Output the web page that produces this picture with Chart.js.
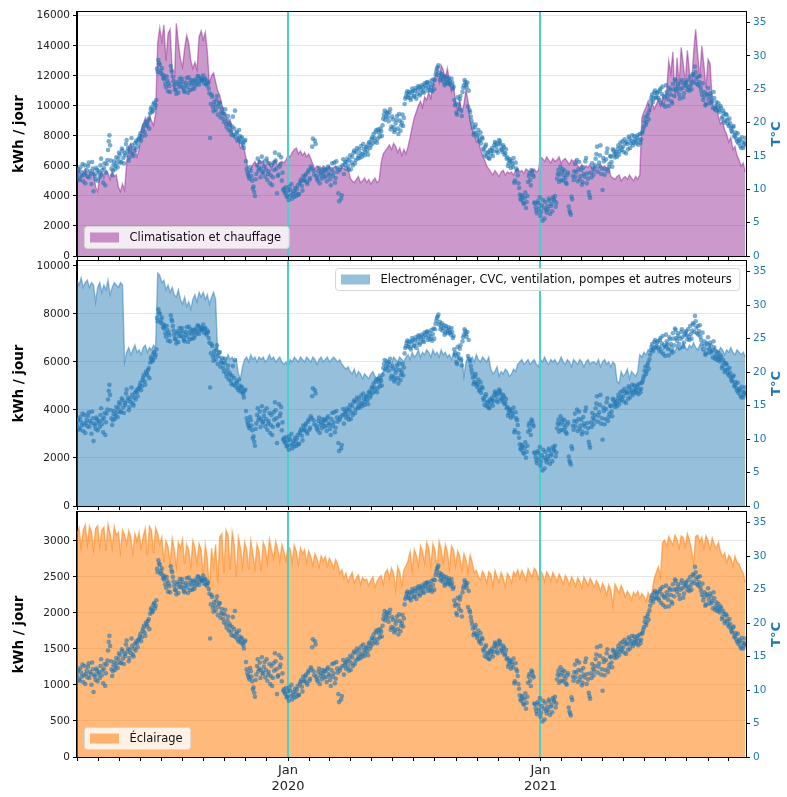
<!DOCTYPE html>
<html><head><meta charset="utf-8">
<script src="https://cdn.jsdelivr.net/npm/chart.js@4.4.1/dist/chart.umd.min.js"></script>
<style>
html,body{margin:0;padding:0;background:#fff;}
#wrap{position:relative;width:787px;height:797px;}
#wrap canvas{position:absolute;left:0;top:0;}
</style></head><body>
<div id="wrap">
<canvas id="c1" width="787" height="797"></canvas>
<canvas id="c2" width="787" height="797"></canvas>
<canvas id="c3" width="787" height="797"></canvas>
</div>
<script>
// ---------------- DATA ----------------
const startDate = '2019-03-01';
const endDate = '2021-10-26';
const energyStepDays = 3;    // one energy reading every 3 days

// Daily mean outdoor temperature (°C), even days (0, 2, 4, ...)
const tempEvenDaysC = [
12.1,13.0,11.4,12.6,13.8,12.2,10.9,12.9,13.5,11.8,12.4,14.1,9.7,12.0,13.2,
11.3,12.7,13.6,12.2,11.0,13.9,12.5,14.4,17.2,16.6,13.1,12.8,14.2,13.5,14.0,
14.6,15.2,14.1,15.8,13.9,15.1,17.4,16.2,14.8,15.5,16.6,15.0,16.9,17.3,16.4,
17.6,18.4,17.9,19.2,18.6,20.1,19.5,20.6,21.4,22.3,21.8,23.0,22.6,28.1,29.4,
28.7,27.8,27.2,26.5,25.8,26.9,24.7,25.5,28.5,27.6,26.2,25.0,24.3,26.1,25.4,
25.9,26.6,25.2,24.6,26.0,25.3,26.8,24.9,25.7,26.3,25.1,26.5,25.8,26.9,26.2,
26.7,26.4,25.9,26.6,25.6,26.0,24.4,22.8,23.9,21.7,22.6,23.4,21.2,22.9,20.8,
22.1,20.6,21.3,19.8,20.4,18.9,19.6,18.2,20.9,19.1,17.9,18.6,17.3,18.0,17.6,
17.0,16.2,17.4,13.1,12.2,11.6,12.8,11.3,10.4,9.0,12.3,14.6,13.2,11.8,14.9,
12.6,14.2,13.0,11.4,12.7,10.9,13.6,11.8,12.9,14.3,9.4,12.2,13.4,14.8,12.5,
10.1,9.4,8.9,9.8,10.4,9.1,8.6,9.7,10.2,9.0,10.6,9.3,11.2,10.5,12.0,
11.4,12.3,10.8,12.9,11.7,13.1,17.6,12.2,16.8,11.6,12.7,10.9,12.5,13.0,11.9,
12.8,11.2,13.4,12.1,10.6,13.9,12.5,11.0,14.2,12.6,8.2,13.3,9.1,14.5,13.7,
13.2,14.6,12.9,15.1,14.0,13.6,15.8,14.4,16.2,15.0,14.7,16.5,15.3,16.0,15.6,
16.4,15.2,17.1,16.6,17.8,18.3,17.2,18.9,17.6,18.5,19.1,18.0,20.6,21.8,20.9,
21.4,20.2,22.0,19.4,20.5,18.6,19.9,21.0,18.3,20.3,19.6,21.2,20.7,23.6,24.4,
23.8,24.6,23.4,25.1,24.0,24.8,23.6,24.9,25.3,24.4,25.6,24.7,25.9,25.2,26.1,
25.4,24.9,26.3,25.7,25.0,27.2,28.1,28.6,27.5,26.8,26.2,27.0,25.9,26.5,25.8,
26.3,25.6,26.0,25.4,22.6,21.5,23.8,22.1,24.0,21.0,25.2,26.4,25.7,26.0,24.8,
21.6,20.3,19.2,18.5,19.7,17.8,18.9,17.4,16.9,17.6,15.8,16.4,14.9,15.6,14.6,
15.3,16.2,15.7,17.1,16.4,15.5,17.4,16.8,15.9,16.6,15.2,16.0,14.8,13.9,14.5,
14.2,13.4,11.0,14.0,12.8,10.9,9.2,8.4,8.9,7.8,9.5,8.1,11.1,12.4,10.6,
12.7,11.9,7.9,6.8,8.2,7.1,6.0,7.6,8.4,5.6,6.9,7.5,8.6,6.3,7.8,
8.8,8.3,7.4,11.6,12.9,12.2,11.4,13.0,12.1,11.7,10.8,12.5,6.8,6.2,8.5,
11.4,13.8,12.6,11.2,14.1,12.0,10.7,13.3,11.9,14.7,12.4,9.6,8.7,11.8,13.2,
12.9,14.6,16.4,13.5,15.1,12.3,9.9,14.2,13.0,15.5,12.7,13.8,14.9,13.4,15.8,
14.8,15.6,16.1,15.2,17.0,15.9,16.4,17.5,15.4,16.8,17.9,16.2,17.3,16.6,18.0,
17.2,17.8,16.7,18.3,17.5,18.6,19.4,20.8,20.1,21.4,21.9,23.3,24.2,23.6,24.8,
23.9,24.6,23.4,25.1,24.3,22.7,23.8,25.6,24.1,22.5,24.9,23.2,25.8,24.0,26.3,
24.7,25.4,23.6,26.0,25.2,24.4,25.9,25.5,26.4,24.8,25.7,26.2,27.1,28.4,26.6,
26.9,26.1,25.3,24.2,23.4,24.6,22.8,24.1,23.5,24.4,23.0,22.2,23.7,22.5,21.8,
22.9,21.6,22.2,20.9,21.4,20.3,21.1,19.8,20.6,19.2,18.6,19.5,18.1,17.6,18.4,
17.3,16.5,17.8,16.2,17.0,16.8
];
// Daily mean outdoor temperature (°C), odd days (1, 3, 5, ...)
const tempOddDaysC = [
12.8,11.6,13.3,12.0,11.2,13.6,12.4,11.9,14.0,12.7,10.8,13.1,12.3,11.5,12.9,
12.4,11.8,14.6,12.9,13.2,10.6,13.8,15.9,18.1,14.3,12.1,13.7,13.0,14.8,13.3,
15.5,14.0,16.1,14.7,15.4,16.8,15.7,14.3,16.0,17.7,15.3,16.2,15.9,17.0,17.5,
18.0,17.3,18.8,19.6,18.1,19.8,20.3,19.1,22.0,21.6,22.8,22.2,23.4,27.6,28.9,
27.4,28.2,26.7,27.0,25.3,26.3,25.9,24.6,27.9,26.9,25.6,24.9,25.8,24.5,26.6,
25.4,26.1,24.8,25.6,26.7,24.5,25.9,26.4,25.0,26.0,25.5,26.2,27.0,25.7,26.5,
26.3,27.1,26.5,25.8,26.2,25.1,17.7,24.2,22.3,23.1,21.9,24.0,22.4,23.0,21.5,
21.4,20.1,22.0,19.3,21.0,19.9,18.7,19.4,18.1,21.8,18.4,17.6,18.9,17.1,17.8,
16.7,17.2,14.2,12.6,11.9,13.3,12.0,10.1,9.6,11.5,13.6,12.8,14.1,13.0,12.4,
13.5,11.9,14.6,12.3,13.9,12.1,10.6,14.0,15.5,13.1,12.0,15.2,13.8,11.3,9.9,
9.6,10.3,9.0,8.4,9.9,10.8,9.3,8.9,9.6,10.1,9.2,10.9,11.5,9.8,11.3,
12.0,11.1,12.6,11.4,13.4,16.4,12.8,17.3,12.0,11.3,13.2,12.1,11.6,12.4,12.9,
11.9,13.1,12.4,11.5,13.0,12.0,14.0,11.7,13.2,9.4,12.9,8.6,13.6,12.3,14.1,
14.1,13.5,14.4,13.0,14.9,15.5,13.9,15.6,14.6,16.0,15.4,14.9,16.8,15.1,16.3,
15.8,16.9,16.2,17.5,16.9,17.7,18.6,17.0,19.0,17.9,18.7,19.6,21.2,20.4,21.6,
20.8,21.5,19.0,20.9,19.3,18.9,20.4,19.1,21.3,18.8,20.0,19.5,22.8,23.9,24.7,
24.2,23.7,24.5,24.7,23.9,25.2,24.3,25.5,24.1,25.0,25.3,24.5,25.6,26.0,24.8,
25.9,25.3,24.7,26.5,26.4,27.7,28.3,27.1,26.4,27.3,26.6,25.6,26.9,26.1,26.7,
25.9,26.6,25.1,23.4,22.9,21.2,22.7,23.5,21.8,24.6,25.6,26.1,25.3,22.4,21.9,
20.9,19.8,18.2,19.3,18.4,18.1,17.2,18.5,17.8,16.1,15.1,16.7,15.4,14.7,15.9,
15.8,15.0,16.6,16.9,15.8,16.8,17.2,16.1,15.6,16.3,15.4,14.6,13.5,14.3,13.2,
13.8,14.7,11.3,13.1,12.1,10.2,8.6,9.1,8.0,8.7,7.2,9.0,12.0,11.4,12.9,
12.2,8.0,7.3,6.4,7.9,8.8,6.6,5.3,7.2,8.1,6.5,7.0,8.3,7.5,6.7,
8.5,9.0,8.0,12.3,11.1,13.4,12.6,11.3,12.8,11.0,12.2,7.4,6.5,8.9,12.0,
12.7,11.9,14.4,13.0,11.5,12.9,11.1,12.3,14.2,10.9,11.6,9.1,12.5,13.9,12.2,
13.6,15.3,12.6,14.0,16.6,13.1,14.7,12.2,14.5,16.1,13.3,15.0,14.1,16.0,15.2,
15.4,14.9,16.6,15.7,16.3,17.2,15.6,16.9,17.1,16.0,17.6,16.9,18.1,17.0,17.5,
16.9,18.1,17.4,17.0,18.4,19.0,20.2,19.7,21.0,20.5,22.6,23.8,23.1,24.5,23.7,
24.4,23.7,24.8,23.0,25.4,24.0,22.4,24.6,23.5,25.2,24.2,22.9,25.0,26.5,25.1,
25.8,24.2,25.0,26.4,23.8,25.6,26.1,24.9,25.3,26.9,25.0,27.3,26.0,27.6,25.8,
25.6,27.0,24.8,25.9,23.9,22.6,24.3,25.2,22.9,24.0,23.3,24.6,22.0,23.1,22.3,
21.9,22.5,20.6,21.8,20.0,21.3,20.4,19.5,19.9,18.8,19.3,17.9,18.5,17.2,16.9,
17.5,16.2,17.1,16.6,17.7
];

// Climatisation et chauffage (kWh / jour)
const climKWh = [
5500,5700,5300,5600,5800,5200,5500,5400,5700,4600,
4300,5400,5600,5200,5700,5500,5100,5600,5300,5400,
4600,4300,4800,4400,6200,7300,7500,6900,7200,6600,
7100,8300,8800,9200,8600,9400,9000,8700,9500,14200,
15200,14300,15400,13000,14800,15100,12400,11200,15500,14200,
13100,12600,13800,14700,14200,13000,12500,12900,12400,14600,
15000,14400,14900,13600,11500,12000,12200,11600,11000,10700,
10100,9600,9300,8800,9100,8300,8000,7600,7900,7200,
7400,7000,6300,5500,5800,6100,6300,6000,6400,6200,
6300,5900,6400,6200,5800,6300,6400,6000,6200,6300,
6200,6400,6700,6600,6900,7100,7200,6800,7000,6700,
6900,6600,6800,6500,6100,5800,6000,5900,5700,6000,
5900,5800,6000,5700,5900,6000,5800,5700,5900,5800,
5700,5900,5200,5000,4900,5100,5300,4900,5000,5200,
4900,5100,4800,5000,5200,4900,5000,6200,6800,7000,
7200,7400,7100,7500,7300,6900,7200,6700,7100,6800,
7300,7900,8600,9200,9600,10000,10300,9900,10600,10400,
10900,10500,11400,11900,12300,11600,12700,12400,11800,12500,
11700,11000,11400,10200,9700,10400,9600,10100,11100,10300,
9000,8400,8100,7600,7800,7100,6700,6400,6000,5800,
5600,5400,5700,5500,5300,5600,5700,5400,5600,5500,
5600,5400,5700,5800,5600,5700,5500,5800,5700,5600,
5700,5800,5600,5700,6600,6500,6300,6600,6400,6200,
6500,6300,6400,6600,6200,6400,6500,6300,6100,6400,
6300,6400,6000,5900,6100,5800,6000,5900,6100,5800,
6000,5900,5800,6100,5900,6000,5800,5900,5300,5200,
5100,5300,5400,5000,5200,5300,5100,5400,5200,5000,
5300,5100,5400,9200,9600,9900,10300,9700,10200,9800,
10100,10400,10000,10600,10300,11000,13000,12200,13600,10500,
13200,11400,13900,12800,11600,13700,12300,11300,13500,15100,
13400,11900,14000,12700,11200,13100,12800,10300,9700,10100,
9300,8800,9000,8400,8100,7600,7900,7100,7300,6700,
6400,6000,6200,5600
];

// Electroménager, CVC, ventilation, pompes et autres moteurs (kWh / jour)
const appKWh = [
9400,9200,9500,9100,9300,9400,9100,9300,9200,8500,
9100,9300,8900,9200,9000,9400,8800,9100,9300,9200,
9100,9300,9200,6000,6400,6600,6300,6500,6700,6400,
6500,6300,6600,6700,6400,6600,6500,6700,6600,9700,
9600,9300,9400,9000,9200,8900,9100,8800,8700,9000,
8600,8400,8700,8300,8500,8200,8600,8800,8500,8900,
8700,8900,8600,8800,8400,8700,8900,8600,6300,6200,
6100,6200,6000,6300,6100,6200,6000,6100,5500,5300,
5800,6100,6200,6000,6300,6100,6200,6000,6200,6100,
6200,6000,6100,6300,6100,6200,6000,6100,6200,6000,
5900,6000,5800,6100,6000,6200,6100,6000,6200,6100,
6000,6200,6100,6000,6200,6100,5900,6100,6200,6000,
6100,6200,6000,6100,6200,6100,6000,6100,5900,5800,
5700,5800,5600,5500,5700,5400,5600,5500,5300,5500,
5400,5300,5500,5600,5400,5300,5500,5400,5600,5700,
5800,6000,5900,6200,6100,6000,6200,6100,6000,6200,
6300,6100,6400,6200,6300,6500,6200,6400,6300,6500,
6400,6200,6500,6300,6400,6200,6500,6300,6400,6200,
6300,6100,6400,6200,6300,6100,6200,5400,6000,6200,
6100,6200,6000,6300,6100,6000,6200,6100,6000,6200,
5700,5500,5600,5800,5400,5600,5500,5700,5600,5400,
5500,5700,5600,5900,6000,6100,5900,6000,6100,5900,
6000,6100,5900,5800,6100,6000,6200,6000,5900,6100,
6000,6100,5900,6000,6200,6000,5900,6100,6000,5800,
6100,6000,5900,6100,6000,5800,6000,6100,5900,6000,
6000,5900,6100,5800,6000,6100,5900,6000,5800,6000,
5900,5200,5100,5600,5400,5500,5700,5300,5600,5500,
5400,5600,6300,6200,6400,6300,6500,6400,6600,6500,
6600,6400,6700,6500,6600,6800,6500,6700,6600,6400,
6700,6500,6600,6800,6600,6500,6700,6600,6800,6600,
6500,6700,6600,6400,6600,6500,6700,6400,6600,6500,
6400,6600,6500,6300,6500,6400,6600,6400,6300,6500,
6400,6300,6400,6200
];

// Éclairage (kWh / jour)
const lightKWh = [
3100,3180,2900,3150,3220,2950,3200,3120,2880,3170,
3210,2920,3150,3190,2860,3230,3100,2900,3200,3080,
3120,2850,3150,3080,2960,3140,3050,2830,3100,3000,
3120,2900,3060,3170,2800,3200,3150,2830,3180,3100,
2950,3050,2700,3000,2920,2680,3030,2880,2650,2980,
2900,3020,2680,2950,2870,2650,3000,2900,2700,2960,
2880,2500,2950,2750,2300,2900,2650,2950,2420,3050,
3100,2550,3150,3080,2600,3120,2950,2500,3050,2900,
2650,2980,2880,2600,3000,2820,2620,2950,2850,2580,
2980,2900,2700,3020,2870,2750,2990,2880,2720,2950,
2850,2730,2920,2890,2700,2940,2850,2680,2900,2820,
2880,2700,2860,2780,2660,2820,2750,2640,2790,2720,
2780,2650,2760,2700,2620,2740,2680,2550,2600,2480,
2550,2430,2500,2560,2420,2480,2530,2400,2490,2450,
2470,2380,2450,2500,2360,2440,2490,2520,2400,2560,
2600,2480,2620,2550,2320,2640,2560,2380,2600,2650,
2720,2850,2600,2880,2800,2650,2930,2850,2700,2980,
2900,2650,2960,2870,2620,2990,2880,2700,2950,2850,
2620,2930,2870,2650,2860,2780,2600,2820,2740,2580,
2800,2700,2560,2590,2500,2460,2580,2520,2420,2570,
2540,2380,2590,2500,2430,2560,2480,2360,2550,2500,
2420,2570,2520,2600,2480,2590,2530,2450,2610,2550,
2500,2620,2580,2470,2590,2540,2440,2570,2520,2450,
2560,2500,2440,2540,2480,2400,2520,2470,2380,2500,
2450,2370,2490,2430,2350,2500,2440,2380,2480,2420,
2360,2450,2400,2300,2410,2350,2250,2390,2320,2100,
2400,2340,2280,2380,2310,2220,2300,2250,2180,2290,
2240,2300,2200,2270,2230,2160,2280,2220,2300,2480,
2560,2640,2500,2980,3010,2930,3060,3000,2940,3080,
3020,2900,3070,3040,2920,3100,3010,2870,2690,3060,
3080,2980,3050,2900,3070,3000,2880,3040,2950,2890,
2980,2850,2780,2830,2700,2800,2760,2650,2790,2700,
2680,2600,2550,2420
];

const seriesLabels = [
  'Climatisation et chauffage',
  'Electroménager, CVC, ventilation, pompes et autres moteurs',
  'Éclairage'
];
// Axis tick values / labels
const climTicks = [0, 2000, 4000, 6000, 8000, 10000, 12000, 14000, 16000];
const appTicks = [0, 2000, 4000, 6000, 8000, 10000];
const lightTicks = [0, 500, 1000, 1500, 2000, 2500, 3000];
const tempTicks = [0, 5, 10, 15, 20, 25, 30, 35];
const yearTickDates = ['2020-01-01', '2021-01-01'];
const yearTickLabels = [['Jan', '2020'], ['Jan', '2021']];
const leftAxisTitle = 'kWh / jour';
const rightAxisTitle = 'T°C';

// ---------------- HELPERS ----------------
const FONT = "'DejaVu Sans', sans-serif";
const TEMP_BLUE = '#1f77b4';
const dayOf = s => Math.round((Date.parse(s) - Date.parse(startDate)) / 864e5);
const lastDay = dayOf(endDate);
const monthTickDays = [];
{
  let y = 2019, m = 2;
  while (true) {
    const d = dayOf(`${y}-${String(m + 1).padStart(2, '0')}-01`);
    if (d > lastDay) break;
    monthTickDays.push(d);
    m++; if (m === 12) { m = 0; y++; }
  }
}
const yearTickDays = yearTickDates.map(dayOf);
const toPts = (arr, step, first = 0) => arr.map((v, i) => ({ x: first + i * step, y: v }));
const tempPoints = toPts(tempEvenDaysC, 2, 0).concat(toPts(tempOddDaysC, 2, 1));
const setTicks = arr => s => { s.ticks = arr.map(v => ({ value: v })); };

const framePlugin = {
  id: 'frame',
  afterDraw(chart) {
    const { ctx, chartArea: a } = chart;
    ctx.save();
    ctx.strokeStyle = '#000';
    ctx.lineWidth = 1;
    ctx.strokeRect(Math.round(a.left) - 0.5, Math.round(a.top) - 0.5,
                   Math.round(a.right - a.left) + 1, Math.round(a.bottom - a.top) + 1);
    ctx.restore();
  }
};

const vlinePlugin = {
  id: 'vlines',
  afterDatasetDraw(chart, args) {
    if (args.index !== 0) return;
    const { ctx, chartArea: a } = chart;
    const xs = chart.scales.x;
    ctx.save();
    ctx.strokeStyle = '#48d1cc';
    ctx.lineWidth = 2;
    yearTickDays.forEach(d => {
      const px = Math.round(xs.getPixelForValue(d));
      ctx.beginPath(); ctx.moveTo(px, a.top); ctx.lineTo(px, a.bottom); ctx.stroke();
    });
    ctx.restore();
  }
};

const rightTitlePlugin = {
  id: 'rightTitle',
  afterDraw(chart) {
    const { ctx, chartArea: a } = chart;
    ctx.save();
    ctx.translate(777, (a.top + a.bottom) / 2);
    ctx.rotate(-Math.PI / 2);
    ctx.font = `bold 13px ${FONT}`;
    ctx.fillStyle = TEMP_BLUE;
    ctx.textAlign = 'center';
    ctx.textBaseline = 'middle';
    ctx.fillText(rightAxisTitle, 0, 0);
    ctx.restore();
  }
};

const boxLegendPlugin = {
  id: 'boxLegend',
  afterDraw(chart, args, o) {
    const ds = chart.data.datasets[0];
    const { ctx, chartArea: a } = chart;
    ctx.save();
    ctx.font = `11.5px ${FONT}`;
    const tw = ctx.measureText(ds.label).width;
    const w = 6 + 29 + 10 + tw + 8, h = 22;
    let x, y;
    if (o.corner === 'tr') { x = a.right - 7 - w; y = a.top + 7; }
    else { x = a.left + 7; y = a.bottom - 8 - h; }
    x = Math.round(x) + 0.5; y = Math.round(y) + 0.5;
    ctx.beginPath();
    if (ctx.roundRect) ctx.roundRect(x, y, w, h, 3); else ctx.rect(x, y, w, h);
    ctx.fillStyle = 'rgba(255,255,255,0.8)';
    ctx.fill();
    ctx.strokeStyle = '#d6d6d6';
    ctx.lineWidth = 1;
    ctx.stroke();
    ctx.fillStyle = ds.backgroundColor;
    ctx.fillRect(x + 5.5, y + 6, 29, 10);
    ctx.fillStyle = '#111';
    ctx.textBaseline = 'middle';
    ctx.fillText(ds.label, x + 6 + 29 + 10, y + h / 2 + 0.5);
    ctx.restore();
  }
};

const panels = [
  { id: 'c1', values: climKWh, label: seriesLabels[0], rgb: '128,0,128', alpha: 0.4,
    yMax: 16250, yTicks: climTicks, top: 12, bottom: 256, showX: false, corner: 'bl' },
  { id: 'c2', values: appKWh, label: seriesLabels[1], rgb: '31,119,180', alpha: 0.47,
    yMax: 10200, yTicks: appTicks, top: 261, bottom: 506, showX: false, corner: 'tr' },
  { id: 'c3', values: lightKWh, label: seriesLabels[2], rgb: '255,127,14', alpha: 0.55,
    yMax: 3400, yTicks: lightTicks, top: 512, bottom: 757, showX: true, corner: 'bl' }
];

panels.forEach(p => {
  const xh = p.showX ? 40 : 5;
  new Chart(document.getElementById(p.id), {
    data: {
      datasets: [
        {
          type: 'line', label: p.label, order: 2, yAxisID: 'y',
          data: toPts(p.values, energyStepDays),
          fill: 'origin',
          backgroundColor: `rgba(${p.rgb},${p.alpha})`,
          borderColor: `rgba(${p.rgb},${p.alpha})`,
          borderWidth: 1.4, pointRadius: 0, tension: 0
        },
        {
          type: 'scatter', label: rightAxisTitle, order: 1, yAxisID: 'yT',
          data: tempPoints,
          backgroundColor: 'rgba(31,119,180,0.6)',
          borderWidth: 0, pointRadius: 2.3
        }
      ]
    },
    options: {
      responsive: false, animation: false, devicePixelRatio: 1, events: [],
      layout: { padding: { left: 8, right: 2, top: p.top, bottom: 797 - p.bottom - xh } },
      plugins: { legend: { display: false }, tooltip: { enabled: false }, boxLegend: { corner: p.corner } },
      scales: {
        x: {
          type: 'linear', min: 0, max: lastDay, offset: false,
          afterBuildTicks: setTicks(monthTickDays),
          afterFit: s => { s.height = xh; },
          ticks: {
            display: true, autoSkip: false, maxRotation: 0, padding: 2,
            font: { family: FONT, size: 13 }, color: '#222',
            callback: v => {
              if (!p.showX) return '';
              const k = yearTickDays.indexOf(v);
              return k >= 0 ? yearTickLabels[k] : '';
            }
          },
          grid: { drawOnChartArea: false, drawTicks: true, tickLength: 4, tickColor: '#000' },
          border: { color: '#000', width: 1 }
        },
        y: {
          position: 'left', min: 0, max: p.yMax,
          afterBuildTicks: setTicks(p.yTicks),
          afterFit: s => { s.width = 69; },
          ticks: {
            padding: 3, autoSkip: false,
            font: { family: FONT, size: 10.5 }, color: '#222',
            callback: v => String(v)
          },
          grid: { color: '#e6e6e6', lineWidth: 1, tickLength: 4, tickColor: '#000' },
          border: { color: '#000', width: 1 },
          title: { display: true, text: leftAxisTitle, color: '#000',
                   font: { family: FONT, size: 13.5, weight: 'bold' }, padding: { top: 3, bottom: 0 } }
        },
        yT: {
          position: 'right', min: 0, max: 36.6,
          afterBuildTicks: setTicks(tempTicks),
          afterFit: s => { s.width = 39; },
          ticks: {
            padding: 3, autoSkip: false,
            font: { family: FONT, size: 10.5 }, color: TEMP_BLUE,
            callback: v => String(v)
          },
          grid: { drawOnChartArea: false, tickLength: 4, tickColor: '#000' },
          border: { color: '#000', width: 1 }
        }
      }
    },
    plugins: [vlinePlugin, framePlugin, boxLegendPlugin, rightTitlePlugin]
  });
});
</script>
</body></html>
